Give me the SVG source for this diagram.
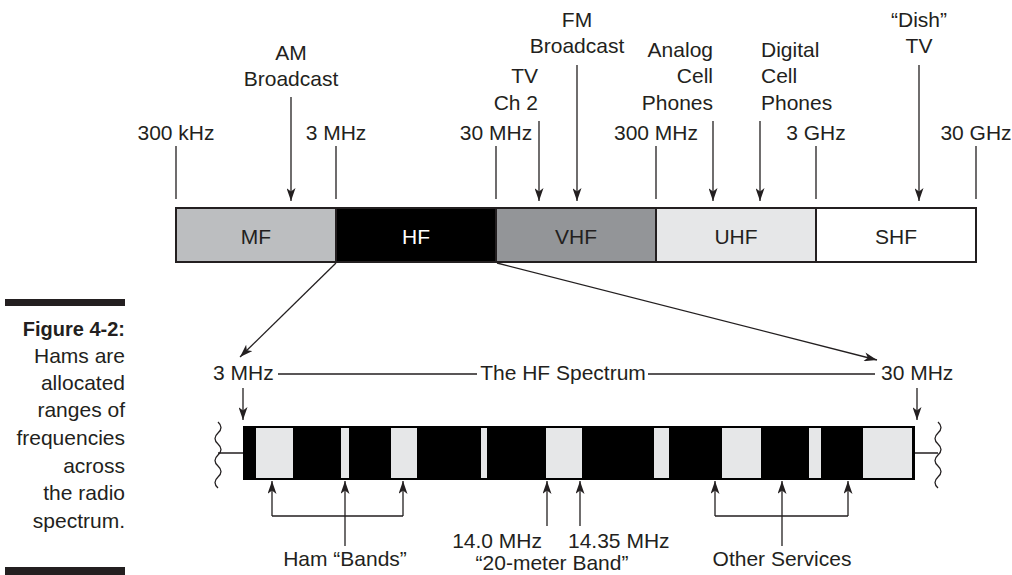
<svg xmlns="http://www.w3.org/2000/svg" width="1012" height="575" viewBox="0 0 1012 575">
<defs>
<style>
text{font-family:"Liberation Sans",Arial,sans-serif;font-size:21px;fill:#231f20}
.m{text-anchor:middle}
.e{text-anchor:end}
.w{fill:#fff}
.ln{stroke:#231f20;stroke-width:1.3;fill:none}
.ar{stroke:#231f20;stroke-width:1.3;fill:none;marker-end:url(#ah)}
.band{stroke:#231f20;stroke-width:2}
.lite{fill:#e6e7e8}
.side{font-size:21px;text-anchor:end}
</style>
<marker id="ah" viewBox="0 0 13 9" refX="13" refY="4.5" markerWidth="13" markerHeight="9" markerUnits="userSpaceOnUse" orient="auto">
<path d="M0,0 L13,4.5 L0,9 L3.5,4.5 z" fill="#231f20"/>
</marker>
</defs>
<rect width="1012" height="575" fill="#fff"/>

<g id="sidebar">
<rect x="5" y="299" width="120" height="7" fill="#231f20"/>
<rect x="5" y="567" width="120" height="8" fill="#231f20"/>
<text class="side" x="125" y="336" style="font-weight:bold;font-size:20px">Figure 4-2:</text>
<text class="side" x="125" y="363">Hams are</text>
<text class="side" x="125" y="390">allocated</text>
<text class="side" x="125" y="417">ranges of</text>
<text class="side" x="125" y="445">frequencies</text>
<text class="side" x="125" y="473">across</text>
<text class="side" x="125" y="500">the radio</text>
<text class="side" x="125" y="528">spectrum.</text>
</g>

<g id="band-MF"><rect class="band" x="176" y="208" width="160" height="54" fill="#bcbec0"/><text class="m" x="256" y="244">MF</text></g>
<g id="band-HF"><rect class="band" x="336" y="208" width="160" height="54" fill="#000"/><text class="m w" x="416" y="244">HF</text></g>
<g id="band-VHF"><rect class="band" x="496" y="208" width="160" height="54" fill="#939598"/><text class="m" x="576" y="244">VHF</text></g>
<g id="band-UHF"><rect class="band" x="656" y="208" width="160" height="54" fill="#e6e7e8"/><text class="m" x="736" y="244">UHF</text></g>
<g id="band-SHF"><rect class="band" x="816" y="208" width="160" height="54" fill="#fff"/><text class="m" x="896" y="244">SHF</text></g>

<g id="freq-labels">
<text class="m" x="176" y="140">300 kHz</text>
<text class="m" x="336" y="140">3 MHz</text>
<text class="m" x="496" y="140">30 MHz</text>
<text class="m" x="656" y="140">300 MHz</text>
<text class="m" x="816" y="140">3 GHz</text>
<text class="m" x="976" y="140">30 GHz</text>
</g>

<g id="service-labels">
<text class="m" x="291" y="60">AM</text>
<text class="m" x="291" y="86">Broadcast</text>
<text class="e" x="538" y="83">TV</text>
<text class="e" x="538" y="110">Ch 2</text>
<text class="m" x="577" y="27">FM</text>
<text class="m" x="577" y="53">Broadcast</text>
<text class="e" x="713" y="57">Analog</text>
<text class="e" x="713" y="83">Cell</text>
<text class="e" x="713" y="110">Phones</text>
<text x="761" y="57">Digital</text>
<text x="761" y="83">Cell</text>
<text x="761" y="110">Phones</text>
<text class="m" x="919" y="27">“Dish”</text>
<text class="m" x="919" y="53">TV</text>
</g>

<g id="hf-spectrum-bar">
<rect x="243" y="426" width="672" height="54" fill="#000"/>
<rect class="lite" x="256" y="428" width="37" height="50"/>
<rect class="lite" x="341" y="428" width="8" height="50"/>
<rect class="lite" x="391" y="428" width="26" height="50"/>
<rect class="lite" x="481" y="428" width="6" height="50"/>
<rect class="lite" x="546" y="428" width="36" height="50"/>
<rect class="lite" x="654" y="428" width="15" height="50"/>
<rect class="lite" x="722" y="428" width="39" height="50"/>
<rect class="lite" x="809" y="428" width="12" height="50"/>
<rect class="lite" x="863" y="428" width="49" height="50"/>
<path class="ln" d="M218,422 q6,5.5 0,11 t0,11 t0,11 t0,11 t0,11 t0,11"/>
<path class="ln" d="M938,422 q6,5.5 0,11 t0,11 t0,11 t0,11 t0,11 t0,11"/>
</g>

<g id="hf-labels">
<text x="213" y="380">3 MHz</text>
<text class="m" x="563" y="380">The HF Spectrum</text>
<text x="881" y="380">30 MHz</text>
<text class="m" x="345" y="566">Ham “Bands”</text>
<text class="e" x="542" y="548">14.0 MHz</text>
<text x="568" y="548">14.35 MHz</text>
<text class="m" x="552" y="570">“20-meter Band”</text>
<text class="m" x="782" y="566">Other Services</text>
</g>

<g id="connectors">
<path class="ln" d="M176,146V199M336,146V199M496,146V199M656,146V199M816,146V199M976,146V199"/>
<path class="ar" d="M291,97V201"/>
<path class="ar" d="M539,121V201"/>
<path class="ar" d="M577,65V201"/>
<path class="ar" d="M713,121V201"/>
<path class="ar" d="M760,121V201"/>
<path class="ar" d="M919,65V201"/>
<path class="ar" d="M336,263L240,357"/>
<path class="ar" d="M497,263L877,360"/>
<path class="ln" d="M278,374H477M648,374H875"/>
<path class="ar" d="M243,388V420"/>
<path class="ar" d="M917,388V420"/>
<path class="ln" d="M218,453H243M915,453H938"/>
<path class="ln" d="M272,516H403M715,516H848"/>
<path class="ar" d="M272,516V481"/>
<path class="ar" d="M345,546V481"/>
<path class="ar" d="M403,516V481"/>
<path class="ar" d="M547,526V481"/>
<path class="ar" d="M580,526V481"/>
<path class="ar" d="M715,516V481"/>
<path class="ar" d="M782,546V481"/>
<path class="ar" d="M848,516V481"/>
</g>
</svg>
